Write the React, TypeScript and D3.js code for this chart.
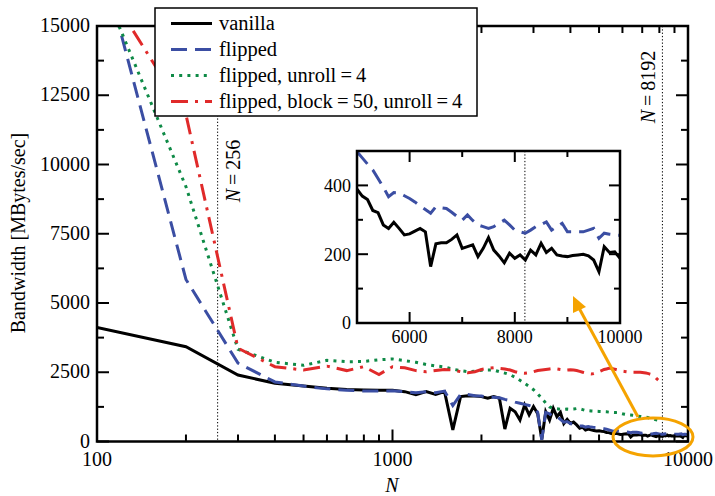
import React from "react";
import * as d3 from "d3";

// N grid (every 100 from 100 to 10000)
const N_ALL: number[] = d3.range(100, 10001, 100);
const N_SHORT: number[] = d3.range(100, 8201, 100);

const vanilla: number[] = [
  4120, 3420, 2400, 2100, 2000, 1920, 1880, 1860, 1850, 1850,
  1800, 1690, 1800, 1700, 1800, 420, 1620, 1650, 1640, 1620,
  1560, 1620, 1560, 450, 1200, 1075, 775, 1320, 960, 1260,
  1000, 80, 1075, 775, 1200, 900, 1050, 650, 800, 650,
  700, 600, 480, 520, 415, 450, 420, 400, 380, 389,
  369, 359, 327, 321, 285, 275, 293, 275, 256, 259,
  267, 275, 265, 164, 230, 233, 233, 243, 256, 217,
  222, 227, 193, 217, 248, 212, 195, 175, 203, 188,
  198, 183, 212, 198, 232, 205, 217, 198, 195, 193,
  196, 198, 200, 195, 183, 149, 222, 205, 207, 188,
];

const flipped: number[] = [
  18000, 5850, 2830, 2150, 2000, 1900, 1850, 1820, 1820, 1830,
  1800, 1760, 1800, 1760, 1820, 1300, 1700, 1700, 1650, 1640,
  1600, 1600, 1580, 1520, 1480, 1420, 1380, 1340, 1300, 1250,
  1050, 60, 1050, 1000, 880, 900, 800, 700, 720, 650,
  620, 600, 560, 560, 520, 540, 520, 510, 505, 498,
  480, 462, 445, 420, 395, 367, 379, 378, 370, 362,
  352, 340, 330, 319, 338, 335, 333, 322, 310, 299,
  314, 298, 285, 280, 275, 280, 290, 299, 285, 270,
  265, 261, 270, 280, 286, 294, 270, 280, 290, 265,
  265, 265, 265, 270, 275, 246, 261, 258, 256, 255,
];

const unroll4: number[] = [
  16900, 9200, 3330, 2860, 2750, 2930, 2880, 2890, 2950, 2980,
  2920, 2860, 2780, 2730, 2690, 2610, 2560, 2520, 2540, 2570,
  2580, 2580, 2520, 2470, 2410, 2320, 2210, 2100, 1990, 1870,
  1720, 1560, 1390, 1250, 1200, 1180, 1165, 1160, 1170, 1160,
  1170, 1190, 1180, 1150, 1120, 1110, 1100, 1095, 1090, 1085,
  1080, 1075, 1070, 1060, 1055, 1050, 1045, 1040, 1020, 1000,
  985, 970, 960, 955, 945, 935, 925, 915, 905, 895,
  890, 880, 865, 850, 835, 820, 800, 785, 775, 770,
  765, 760,
];

const block50: number[] = [
  16900, 11800, 3370, 2700, 2580, 2720, 2560, 2700, 2420, 2700,
  2660, 2560, 2520, 2560, 2600, 2580, 2520, 2480, 2520, 2600,
  2640, 2660, 2640, 2620, 2580, 2520, 2470, 2460, 2480, 2520,
  2560, 2580, 2600, 2620, 2640, 2620, 2600, 2580, 2580, 2590,
  2580, 2560, 2530, 2500, 2470, 2450, 2440, 2450, 2480, 2520,
  2560, 2600, 2620, 2640, 2640, 2620, 2600, 2580, 2560, 2540,
  2530, 2520, 2520, 2510, 2500, 2500, 2500, 2500, 2500, 2490,
  2480, 2470, 2460, 2440, 2420, 2400, 2350, 2290, 2230, 2180,
  2130, 2090,
];

const yMainTicks: number[] = [0, 2500, 5000, 7500, 10000, 12500, 15000];
const yMainMinor: number[] = [1250, 3750, 6250, 8750, 11250, 13750];
const xMainLabels: number[] = [100, 1000, 10000];
const xInsetMajor: number[] = [6000, 8000, 10000];
const xInsetMinor: number[] = [7000, 9000];
const yInsetMajor: number[] = [0, 200, 400];
const yInsetMinor: number[] = [100, 300];
const markers: number[] = [256, 8192];

const legendLabels: string[] = [
  "vanilla",
  "flipped",
  "flipped, unroll\u2009=\u20094",
  "flipped, block\u2009=\u200950, unroll\u2009=\u20094",
];

const COLORS = ["#000000", "#3b4ea3", "#0e8a46", "#e02a2a"];
const DASHES = ["none", "16,8", "3,5.2", "17,7,3,7"];
const ORANGE = "#f5a300";
const FONT = "'Liberation Serif', 'Times New Roman', serif";

export default function App() {
  const L = 97, R = 688, T = 26, B = 441.5;
  const x = d3.scaleLog().domain([100, 10000]).range([L, R]);
  const y = d3.scaleLinear().domain([0, 15000]).range([B, T]);

  const IL = 357, IR = 620, IT = 151, IB = 323;
  const xi = d3.scaleLinear().domain([5000, 10000]).range([IL, IR]);
  const yi = d3.scaleLinear().domain([0, 500]).range([IB, IT]);

  const mkSeries = (ns: number[], vs: number[]) => ns.map((n, i) => [n, vs[i]] as [number, number]);
  const series = [
    mkSeries(N_ALL, vanilla),
    mkSeries(N_ALL, flipped),
    mkSeries(N_SHORT, unroll4),
    mkSeries(N_SHORT, block50),
  ];

  const lineMain = d3.line<[number, number]>().x((d) => x(d[0])).y((d) => y(d[1]));
  const lineInset = d3.line<[number, number]>().x((d) => xi(d[0])).y((d) => yi(d[1]));

  const xTicksAll = x.ticks();
  const isMajor = (v: number) => Math.abs(Math.log10(v) - Math.round(Math.log10(v))) < 1e-9;

  const axisW = 2.5;
  const lineW = 3;

  return (
    <svg width={715} height={496} style={{ position: "absolute", left: 0, top: 0 }} fontFamily={FONT}>
      <defs>
        <clipPath id="mainclip">
          <rect x={L} y={T} width={R - L} height={B - T} />
        </clipPath>
        <clipPath id="insetclip">
          <rect x={IL} y={IT} width={IR - IL} height={IB - IT} />
        </clipPath>
      </defs>
      <rect x={0} y={0} width={715} height={496} fill="#fff" />

      {/* marker lines */}
      {markers.map((m) => (
        <line key={m} x1={x(m)} x2={x(m)} y1={T} y2={B} stroke="#000" strokeWidth={1} strokeDasharray="1.3,2" />
      ))}

      {/* main series */}
      <g clipPath="url(#mainclip)">
        {series.map((s, i) => (
          <path key={i} d={lineMain(s) || ""} fill="none" stroke={COLORS[i]} strokeWidth={lineW}
            strokeDasharray={DASHES[i]} strokeLinejoin="miter" />
        ))}
      </g>

      {/* main frame */}
      <rect x={L} y={T} width={R - L} height={B - T} fill="none" stroke="#000" strokeWidth={axisW} />

      {/* x ticks */}
      {xTicksAll.map((t, i) => {
        const len = isMajor(t) ? 12 : 7;
        return (
          <g key={i}>
            <line x1={x(t)} x2={x(t)} y1={B} y2={B - len} stroke="#000" strokeWidth={2} />
            <line x1={x(t)} x2={x(t)} y1={T} y2={T + len} stroke="#000" strokeWidth={2} />
          </g>
        );
      })}
      {xMainLabels.map((t) => (
        <text key={t} x={x(t)} y={466} textAnchor="middle" fontSize={20}>{t}</text>
      ))}

      {/* y ticks */}
      {yMainTicks.map((t) => (
        <g key={t}>
          <line x1={L} x2={L + 12} y1={y(t)} y2={y(t)} stroke="#000" strokeWidth={2} />
          <line x1={R} x2={R - 12} y1={y(t)} y2={y(t)} stroke="#000" strokeWidth={2} />
          <text x={90} y={y(t) - 1} dy="0.35em" textAnchor="end" fontSize={20}>{t}</text>
        </g>
      ))}
      {yMainMinor.map((t) => (
        <g key={t}>
          <line x1={L} x2={L + 7} y1={y(t)} y2={y(t)} stroke="#000" strokeWidth={2} />
          <line x1={R} x2={R - 7} y1={y(t)} y2={y(t)} stroke="#000" strokeWidth={2} />
        </g>
      ))}

      {/* axis titles */}
      <text transform="translate(25,233) rotate(-90)" textAnchor="middle" fontSize={20}>Bandwidth [MBytes/sec]</text>
      <text x={392} y={492} textAnchor="middle" fontSize={20} fontStyle="italic">N</text>

      {/* marker labels */}
      <text transform={`translate(240,171) rotate(-90)`} textAnchor="middle" fontSize={20}>
        <tspan fontStyle="italic">N</tspan>{"\u2009=\u2009256"}
      </text>
      <text transform={`translate(655,87) rotate(-90)`} textAnchor="middle" fontSize={20}>
        <tspan fontStyle="italic">N</tspan>{"\u2009=\u20098192"}
      </text>

      {/* inset */}
      <rect x={IL} y={IT} width={IR - IL} height={IB - IT} fill="#fff" stroke="none" />
      <line x1={xi(8192)} x2={xi(8192)} y1={IT} y2={IB} stroke="#000" strokeWidth={1} strokeDasharray="1.3,2" />
      <g clipPath="url(#insetclip)">
        {series.slice(0, 2).map((s, i) => (
          <path key={i} d={lineInset(s.filter((d) => d[0] >= 5000)) || ""} fill="none" stroke={COLORS[i]}
            strokeWidth={lineW} strokeDasharray={DASHES[i]} />
        ))}
      </g>
      <rect x={IL} y={IT} width={IR - IL} height={IB - IT} fill="none" stroke="#000" strokeWidth={axisW} />
      {xInsetMajor.map((t) => (
        <g key={t}>
          <line x1={xi(t)} x2={xi(t)} y1={IB} y2={IB - 11} stroke="#000" strokeWidth={2} />
          <line x1={xi(t)} x2={xi(t)} y1={IT} y2={IT + 11} stroke="#000" strokeWidth={2} />
          <text x={xi(t)} y={342.5} textAnchor="middle" fontSize={18}>{t}</text>
        </g>
      ))}
      {xInsetMinor.map((t) => (
        <g key={t}>
          <line x1={xi(t)} x2={xi(t)} y1={IB} y2={IB - 6} stroke="#000" strokeWidth={2} />
          <line x1={xi(t)} x2={xi(t)} y1={IT} y2={IT + 6} stroke="#000" strokeWidth={2} />
        </g>
      ))}
      {yInsetMajor.map((t) => (
        <g key={t}>
          <line x1={IL} x2={IL + 11} y1={yi(t)} y2={yi(t)} stroke="#000" strokeWidth={2} />
          <line x1={IR} x2={IR - 11} y1={yi(t)} y2={yi(t)} stroke="#000" strokeWidth={2} />
          <text x={351} y={yi(t)} dy="0.35em" textAnchor="end" fontSize={18}>{t}</text>
        </g>
      ))}
      {yInsetMinor.map((t) => (
        <g key={t}>
          <line x1={IL} x2={IL + 6} y1={yi(t)} y2={yi(t)} stroke="#000" strokeWidth={2} />
          <line x1={IR} x2={IR - 6} y1={yi(t)} y2={yi(t)} stroke="#000" strokeWidth={2} />
        </g>
      ))}

      {/* legend */}
      <rect x={155} y={8} width={322} height={108} fill="#fff" stroke="#000" strokeWidth={1.5} />
      {legendLabels.map((lab, i) => {
        const ly = 23.5 + i * 26;
        return (
          <g key={i}>
            <line x1={171} x2={212} y1={ly} y2={ly} stroke={COLORS[i]} strokeWidth={lineW} strokeDasharray={DASHES[i]} />
            <text x={219} y={ly} dy="0.33em" fontSize={20.5}>{lab}</text>
          </g>
        );
      })}

      {/* ellipse and arrow */}
      <ellipse cx={653} cy={437} rx={40} ry={19} fill="none" stroke={ORANGE} strokeWidth={3} />
      <line x1={638} y1={417} x2={579} y2={308} stroke={ORANGE} strokeWidth={3} />
      <polygon points="573,296 586,307 573,313" fill={ORANGE} />
    </svg>
  );
}
